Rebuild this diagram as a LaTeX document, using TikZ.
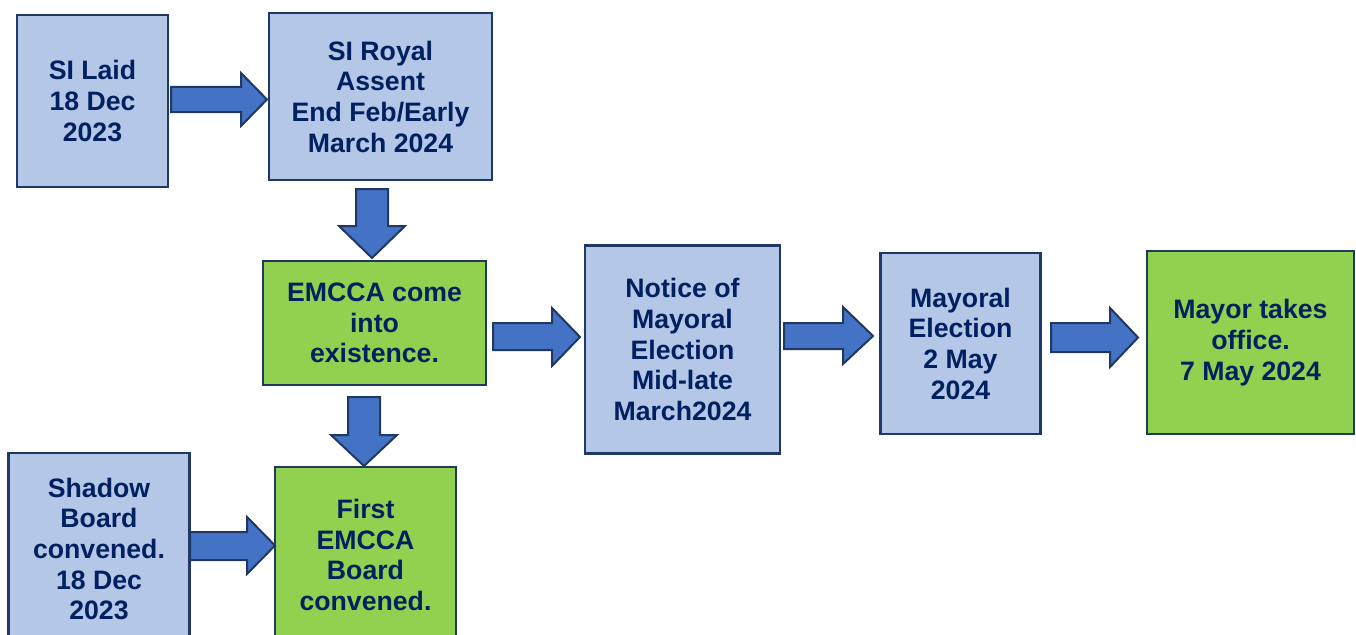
\documentclass[tikz,border=0pt]{standalone}
\usepackage{fontspec}
\setmainfont{Liberation Sans}
\newdimen\pxu \pxu=0.75pt
\definecolor{boxblue}{HTML}{B4C7E7}
\definecolor{boxgreen}{HTML}{92D050}
\definecolor{edge}{HTML}{1F3864}
\definecolor{txt}{HTML}{002060}
\definecolor{arrowblue}{HTML}{4472C4}
\tikzset{
  box/.style={draw=edge, line width=2.2\pxu, align=center, text=txt,
    font=\fontsize{20}{23}\selectfont\bfseries, inner sep=0pt},
  bluebox/.style={box, fill=boxblue},
  greenbox/.style={box, fill=boxgreen},
  barrow/.style={draw=edge, fill=arrowblue, line width=2\pxu, line join=miter}
}
\begin{document}
\begin{tikzpicture}[x=\pxu, y=-\pxu]
\useasboundingbox (0,0) rectangle (1356,635);
\clip (0,0) rectangle (1356,635);
\fill[white] (0,0) rectangle (1356,635);
% boxes
\node[bluebox, minimum width=151\pxu, minimum height=172\pxu] (laid) at (92.5,101) {SI Laid\\18 Dec\\2023};
\node[bluebox, minimum width=223\pxu, minimum height=167\pxu] (royal) at (380.5,96.5) {SI Royal\\Assent\\End Feb/Early\\March 2024};
\node[greenbox, minimum width=223\pxu, minimum height=124\pxu] (emcca) at (374.5,323) {EMCCA come\\into\\existence.};
\node[bluebox, minimum width=195\pxu, minimum height=208\pxu] (notice) at (682.5,349.5) {Notice of\\Mayoral\\Election\\Mid-late\\March2024};
\node[bluebox, minimum width=160\pxu, minimum height=181\pxu] (election) at (960.5,343.5) {Mayoral\\Election\\2 May\\2024};
\node[greenbox, minimum width=207\pxu, minimum height=183\pxu] (office) at (1250.5,342.5) {Mayor takes\\office.\\7 May 2024};
\node[bluebox, minimum width=181\pxu, minimum height=192\pxu] (shadow) at (99,549) {Shadow\\Board\\convened.\\18 Dec\\2023};
\node[greenbox, minimum width=181\pxu, minimum height=176\pxu] (board) at (365.5,555) {First\\EMCCA\\Board\\convened.};
% block arrows
\draw[barrow] (171,87) -- (241,87) -- (241,73) -- (267,99.5) -- (241,126) -- (241,112) -- (171,112) -- cycle;
\draw[barrow] (493,323) -- (552,323) -- (552,308) -- (580,337) -- (552,366) -- (552,350) -- (493,350) -- cycle;
\draw[barrow] (784,323) -- (843,323) -- (843,307) -- (873,336) -- (843,364) -- (843,349) -- (784,349) -- cycle;
\draw[barrow] (1051,323) -- (1110,323) -- (1110,308) -- (1138,337.5) -- (1110,367) -- (1110,352) -- (1051,352) -- cycle;
\draw[barrow] (190,532) -- (247,532) -- (247,517) -- (275,545.5) -- (247,574) -- (247,560) -- (190,560) -- cycle;
\draw[barrow] (356,189) -- (388,189) -- (388,226) -- (405,226) -- (372,258) -- (339,226) -- (356,226) -- cycle;
\draw[barrow] (348,397) -- (380,397) -- (380,435) -- (397,435) -- (364,466) -- (331,435) -- (348,435) -- cycle;
\end{tikzpicture}
\end{document}
